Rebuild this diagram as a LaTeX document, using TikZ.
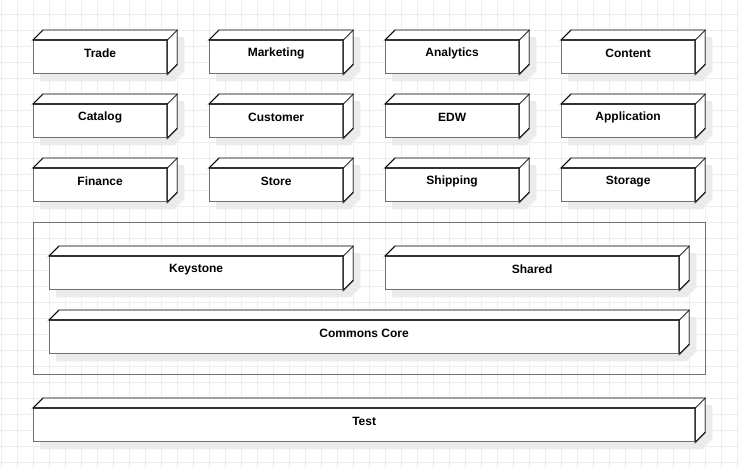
\documentclass[tikz,border=0pt]{standalone}
\usepackage{fontspec}
\setmainfont{Liberation Sans}
\pgfdeclarelayer{grid}
\pgfdeclarelayer{shadow}
\pgfsetlayers{grid,shadow,main}
\definecolor{gridc}{HTML}{EDEDED}
\definecolor{shadowc}{HTML}{EBEBEB}
\definecolor{edgec}{HTML}{707070}
\definecolor{darkc}{HTML}{333333}
\tikzset{
  box/.style={draw=edgec, line width=1.3pt, fill=white, minimum height=33, inner sep=0pt, anchor=north west},
  lbl/.style={font=\fontsize{12}{14}\selectfont\bfseries, text=black, inner sep=0pt},
  sideface/.style={draw=edgec, line width=1.3pt, fill=white, line join=miter},
  diag/.style={draw=black, line width=0.7pt},
  frontedge/.style={draw=darkc, line width=1.3pt},
  container/.style={draw=edgec, line width=1.1pt}
}
\newcommand\umlbox[5]{%
  \node[box, minimum width=#4] (#1) at (#2,#3) {};
  \begin{pgfonlayer}{shadow}
    \fill[shadowc] ([shift={(7,7)}]#1.north west) -- ++(10,-10) -- ([shift={(17,-3)}]#1.north east)
      -- ([shift={(17,-3)}]#1.south east) -- ([shift={(7,7)}]#1.south east) -- ([shift={(7,7)}]#1.south west) -- cycle;
  \end{pgfonlayer}
  \draw[sideface] (#1.north west) -- ++(10,-10) -- ([shift={(10,-10)}]#1.north east)
    -- ([shift={(10,-10)}]#1.south east) -- (#1.south east) -- (#1.north east) -- cycle;
  \draw[frontedge] (#1.north west) -- (#1.north east) -- (#1.south east);
  \draw[diag] (#1.north west) -- ++(10,-10);
  \draw[diag] (#1.north east) -- ++(10,-10);
  \draw[diag] (#1.south east) -- ++(10,-10);
  \node[lbl] (#1-t) at ([yshift=4pt]#1.center) {#5};
}
\begin{document}
\begin{tikzpicture}[x=1pt,y=-1pt]
\useasboundingbox (0,0) rectangle (739,469);
\begin{pgfonlayer}{grid}
  \fill[white] (0,0) rectangle (739,469);
  \foreach \i in {0,...,46} \draw[gridc, line width=1pt] (1+16*\i,0) -- (1+16*\i,469);
  \foreach \j in {0,...,29} \draw[gridc, line width=1pt] (0,14.5+16*\j) -- (739,14.5+16*\j);
\end{pgfonlayer}
\umlbox{trade}{33}{40}{133}{Trade}
\umlbox{marketing}{209}{40}{133}{Marketing}
\umlbox{analytics}{385}{40}{133}{Analytics}
\umlbox{content}{561}{40}{133}{Content}
\umlbox{catalog}{33}{104}{133}{Catalog}
\umlbox{customer}{209}{104}{133}{Customer}
\umlbox{edw}{385}{104}{133}{EDW}
\umlbox{application}{561}{104}{133}{Application}
\umlbox{finance}{33}{168}{133}{Finance}
\umlbox{store}{209}{168}{133}{Store}
\umlbox{shipping}{385}{168}{133}{Shipping}
\umlbox{storage}{561}{168}{133}{Storage}
\node[container, minimum width=672, minimum height=152, inner sep=0pt, anchor=north west] (core) at (33,222) {};
\umlbox{keystone}{49}{256}{293}{Keystone}
\umlbox{shared}{385}{256}{293}{Shared}
\umlbox{commons}{49}{320}{629}{Commons Core}
\umlbox{test}{33}{408}{661}{Test}
\end{tikzpicture}
\end{document}
